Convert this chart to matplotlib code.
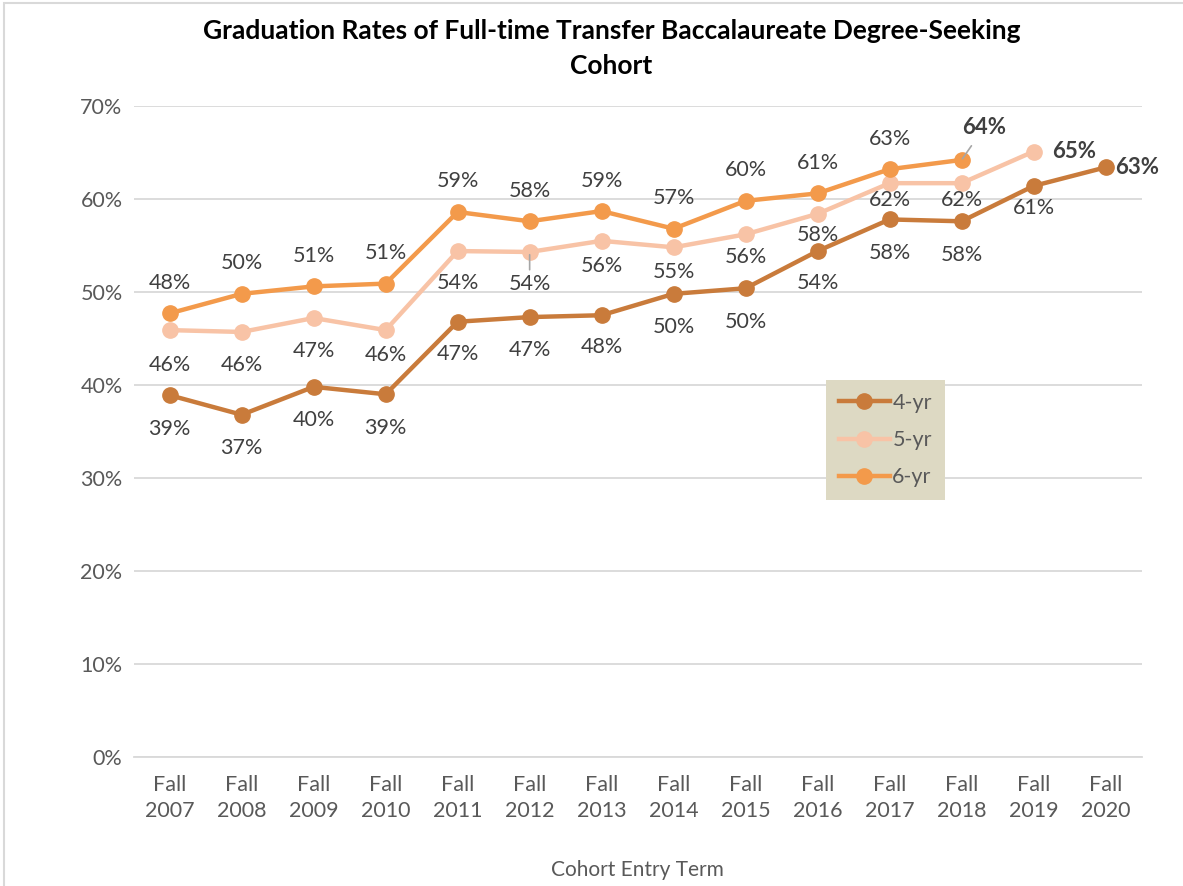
import matplotlib.pyplot as plt
from matplotlib.patches import Rectangle

terms = ['Fall\n2007', 'Fall\n2008', 'Fall\n2009', 'Fall\n2010', 'Fall\n2011', 'Fall\n2012', 'Fall\n2013',
         'Fall\n2014', 'Fall\n2015', 'Fall\n2016', 'Fall\n2017', 'Fall\n2018', 'Fall\n2019', 'Fall\n2020']
yr4 = [38.9, 36.8, 39.8, 39.0, 46.8, 47.3, 47.5, 49.8, 50.4, 54.4, 57.8, 57.6, 61.4, 63.4]
yr5 = [45.9, 45.7, 47.2, 45.9, 54.4, 54.3, 55.5, 54.8, 56.2, 58.4, 61.7, 61.7, 65.1]
yr6 = [47.7, 49.8, 50.6, 50.9, 58.6, 57.6, 58.7, 56.8, 59.8, 60.6, 63.2, 64.2]

# label offsets (points) as placed in the original chart
off4 = [-24, -24, -24, -24, -23, -24, -23, -24, -24, -23, -24, -24, -16]
off5 = [-25, -24, -24, -18, -23, -23, -18, -18, -16, -15, -12, -12]

plt.rcParams['font.family'] = ['Lato', 'DejaVu Sans']
txt = '#404040'
fs = 15.5

fig = plt.figure(figsize=(11.83, 8.86), dpi=100)
fig.patches.append(Rectangle((0.003, -0.01), 1.5, 1.007, transform=fig.transFigure,
                             fill=False, edgecolor='#D9D9D9', lw=1.5))
ax = fig.add_axes([0.113, 0.1456, 0.852, 0.7348])

c4, c5, c6 = '#C97B3B', '#F8C3A6', '#F39A4B'
x4 = list(range(len(yr4)))
x5 = list(range(len(yr5)))
x6 = list(range(len(yr6)))
ax.plot(x4, yr4, color=c4, lw=3.2, marker='o', ms=11, label='4-yr', zorder=3)
ax.plot(x5, yr5, color=c5, lw=3.2, marker='o', ms=11, label='5-yr', zorder=3)
ax.plot(x6, yr6, color=c6, lw=3.2, marker='o', ms=11, label='6-yr', zorder=3)

# data labels
for x, y, dy in zip(x4, yr4, off4):
    ax.annotate(f'{round(y)}%', (x, y), xytext=(0, dy), textcoords='offset points',
                ha='center', va='center', fontsize=fs, color=txt)
for x, y, dy in zip(x5, yr5, off5):
    arrow = dict(arrowstyle='-', color='#A6A6A6', lw=1.2, shrinkA=1, shrinkB=2) if x == 5 else None
    ax.annotate(f'{round(y)}%', (x, y), xytext=(0, dy), textcoords='offset points',
                ha='center', va='center', fontsize=fs, color=txt, arrowprops=arrow, zorder=4)
for x, y in zip(x6[:-1], yr6[:-1]):
    ax.annotate(f'{round(y)}%', (x, y), xytext=(0, 22), textcoords='offset points',
                ha='center', va='center', fontsize=fs, color=txt)
ax.annotate(f'{round(yr4[-1])}%', (x4[-1], yr4[-1]), xytext=(7, 0), textcoords='offset points',
            ha='left', va='center', fontsize=16, fontweight='bold', color=txt)
ax.annotate(f'{round(yr5[-1])}%', (x5[-1], yr5[-1]), xytext=(13, 0), textcoords='offset points',
            ha='left', va='center', fontsize=16, fontweight='bold', color=txt)
ax.annotate(f'{round(yr6[-1])}%', (x6[-1], yr6[-1]), xytext=(16, 23), textcoords='offset points',
            ha='center', va='center', fontsize=16, fontweight='bold', color=txt, zorder=4,
            arrowprops=dict(arrowstyle='-', color='#A6A6A6', lw=1.2, shrinkA=4, shrinkB=1))

ax.set_xlim(-0.5, len(terms) - 0.5)
ax.set_ylim(0, 70)
ax.set_xticks(range(len(terms)))
ax.set_xticklabels(terms, fontsize=fs, color='#595959', linespacing=1.4)
ax.set_yticks(range(0, 71, 10))
ax.set_yticklabels([f'{v}%' for v in range(0, 71, 10)], fontsize=fs, color='#595959')
ax.tick_params(axis='x', length=0, pad=13)
ax.tick_params(axis='y', length=0, pad=8)
ax.grid(axis='y', color='#D9D9D9', lw=1.3)
ax.set_axisbelow(True)
for s in ['top', 'right', 'left']:
    ax.spines[s].set_visible(False)
ax.spines['bottom'].set_color('#D9D9D9')
ax.spines['bottom'].set_linewidth(1.3)

ax.set_xlabel('Cohort Entry Term', fontsize=15, color='#595959', labelpad=28)
fig.suptitle('Graduation Rates of Full-time Transfer Baccalaureate Degree-Seeking\nCohort',
             x=0.517, y=0.978, fontsize=19, fontweight='bold', color='black', linespacing=1.55)

leg = ax.legend(loc='upper left', bbox_to_anchor=(0.6865, 0.579), fontsize=fs, frameon=True,
                fancybox=False, facecolor='#DDD9C3', edgecolor='none', framealpha=1,
                handlelength=2.4, labelspacing=0.8, borderpad=0.6, handletextpad=0.1,
                borderaxespad=0)
for t in leg.get_texts():
    t.set_color('#595959')

fig.savefig('out.png', dpi=100)
